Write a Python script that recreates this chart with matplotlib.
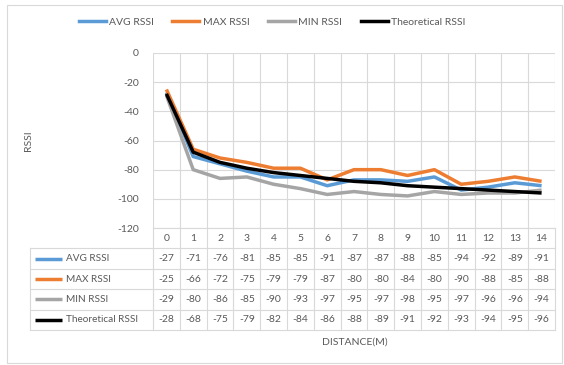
import matplotlib
matplotlib.use("Agg")
import matplotlib.pyplot as plt
from matplotlib.patches import Rectangle
from matplotlib.lines import Line2D

# RSSI readings per distance (m)
distance = list(range(15))
avg_rssi = [-27, -71, -76, -81, -85, -85, -91, -87, -87, -88, -85, -94, -92, -89, -91]
max_rssi = [-25, -66, -72, -75, -79, -79, -87, -80, -80, -84, -80, -90, -88, -85, -88]
min_rssi = [-29, -80, -86, -85, -90, -93, -97, -95, -97, -98, -95, -97, -96, -96, -94]
theo_rssi = [-28, -68, -75, -79, -82, -84, -86, -88, -89, -91, -92, -93, -94, -95, -96]

series_names = ["AVG RSSI", "MAX RSSI", "MIN RSSI", "Theoretical RSSI"]
series_data = [avg_rssi, max_rssi, min_rssi, theo_rssi]
series_colors = ["#5B9BD5", "#ED7D31", "#A5A5A5", "#000000"]
y_ticks = [0, -20, -40, -60, -80, -100, -120]

plt.rcParams['font.family'] = ['Lato', 'DejaVu Sans']
TXT = "#595959"
GRID = "#D9D9D9"
FS = 7.5

W, H = 564, 365
fig = plt.figure(figsize=(W / 100, H / 100), dpi=100)


def box(x0, y0, x1, y1):
    # pixel box (top-left origin) -> figure fraction rect
    return [x0 / W, 1 - y1 / H, (x1 - x0) / W, (y1 - y0) / H]


# outer chart border
fig.patches.append(Rectangle((7 / W, 2 / H), 555 / W, 358 / H, transform=fig.transFigure,
                             fill=False, edgecolor=GRID, lw=0.8))

# plot area
ax = fig.add_axes(box(153, 53, 555, 228))
for name, vals, col in zip(series_names, series_data, series_colors):
    ax.plot(distance, vals, color=col, lw=2.5, solid_capstyle='butt', label=name, zorder=3)
ax.set_xlim(-0.5, 14.5)
ax.set_ylim(-120, 0)
ax.set_yticks(y_ticks)
ax.set_yticklabels([str(v) for v in y_ticks], fontsize=FS, color=TXT)
ax.set_xticks([])
ax.tick_params(axis='y', length=0, pad=10)
for s in ax.spines.values():
    s.set_visible(False)
for v in y_ticks:
    ax.axhline(v, color=GRID, lw=0.8, zorder=1)
for i in range(len(distance) + 1):
    ax.axvline(i - 0.5, color=GRID, lw=0.8, zorder=1)
ax.set_ylabel("RSSI", fontsize=FS, color=TXT, labelpad=0)
ax.yaxis.set_label_coords(-(153 - 33) / 402, 0.5)

# legend on top
handles = [Line2D([0], [0], color=c, lw=2.5) for c in series_colors]
fig.legend(handles, series_names, loc='center', bbox_to_anchor=(272 / W, 1 - 22 / H),
           ncol=4, frameon=False, fontsize=FS, labelcolor=TXT, handlelength=2.6,
           handletextpad=0.3, columnspacing=1.8)

# data table below the plot
tax = fig.add_axes(box(153, 228, 555, 330))
tax.set_xlim(-0.5, 14.5)
tax.set_ylim(5, 0)
tax.axis('off')
col_w = 402 / 15
left = -0.5 - (153 - 30) / col_w

for i, d in enumerate(distance):
    tax.text(i, 0.5, str(d), ha='center', va='center', fontsize=FS, color=TXT)
for r, (name, vals, col) in enumerate(zip(series_names, series_data, series_colors), start=1):
    for i, v in enumerate(vals):
        tax.text(i, r + 0.5, str(v), ha='center', va='center', fontsize=FS, color=TXT)
    tax.plot([left + 0.2, left + 1.2], [r + 0.5, r + 0.5], color=col, lw=2.5,
             solid_capstyle='butt', clip_on=False)
    tax.text(left + 1.35, r + 0.5, name, ha='left', va='center', fontsize=7.2, color=TXT,
             clip_on=False)

for r in range(6):
    x0 = -0.5 if r == 0 else left
    tax.plot([x0, 14.5], [r, r], color=GRID, lw=0.8, clip_on=False)
for i in range(len(distance) + 1):
    tax.plot([i - 0.5, i - 0.5], [0, 5], color=GRID, lw=0.8, clip_on=False)
tax.plot([left, left], [1, 5], color=GRID, lw=0.8, clip_on=False)

fig.text(355 / W, 1 - 342 / H, "DISTANCE(M)", ha='center', va='center', fontsize=FS, color=TXT)

fig.savefig("out.png", dpi=100)
